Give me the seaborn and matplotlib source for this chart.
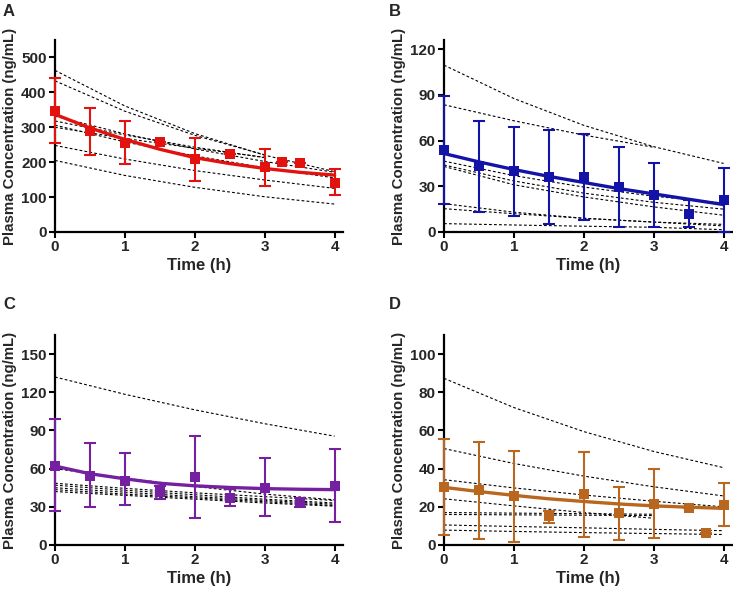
import matplotlib
matplotlib.use("Agg")
import matplotlib.pyplot as plt
import seaborn as sns

# ---- shared time grids ----
obs_time = [0, 0.5, 1, 1.5, 2, 2.5, 3, 3.5, 4]
fit_time = [0, 0.5, 1, 1.5, 2, 2.5, 3, 3.5, 4]
subj_time = [0, 1, 2, 3, 4]

# ---- panel A ----
a_time = [0, 0.5, 1, 1.5, 2, 2.5, 3, 3.25, 3.5, 4]
a_mean = [348, 288, 255, 258, 209, 224, 185, 200, 198, 141]
a_lo = [255, 222, 195, 258, 147, 224, 133, 200, 198, 105]
a_hi = [440, 355, 317, 258, 268, 224, 237, 200, 198, 180]
a_fit = [337, 298, 265, 237, 213, 196, 182, 171, 163]
a_subjects = [
    [463, 361, 282, 220, 173],
    [433, 346, 277, 221],
    [332, 281, 238, 202, 171],
    [318, 278, 243, 213],
    [306, 258, 218, 184, 155],
    [300, 268, 240, 214],
    [248, 209, 176, 149, 125],
    [205, 162, 128, 101, 80],
]

# ---- panel B ----
b_mean = [53.9, 43.6, 40.0, 36.4, 36.4, 29.5, 24.0, 12.0, 21.0]
b_lo = [18.5, 13.0, 10.5, 5.5, 8.0, 3.0, 3.0, 3.0, 0.0]
b_hi = [89.5, 72.7, 69.0, 67.0, 64.5, 56.0, 45.0, 21.0, 42.0]
b_fit = [51.5, 46.0, 41.0, 36.5, 32.5, 28.5, 25.0, 21.5, 18.0]
b_subjects = [
    [109.5, 87.6, 70.0, 56.0, 45.0],
    [83.5, 73.0, 63.6, 55.6],
    [46.5, 37.0, 29.5, 23.5, 19.0],
    [44.0, 33.5, 25.5, 19.5, 15.0],
    [43.0, 31.0, 23.0, 16.5, 11.0],
    [18.6, 13.0, 9.0, 6.5, 4.0],
    [15.3, 12.0, 9.0, 6.5, 5.0],
    [5.5, 4.6, 3.8, 3.1, 1.5],
]

# ---- panel C ----
c_mean = [62.3, 54.5, 50.3, 41.4, 53.4, 36.6, 45.0, 33.5, 46.3]
c_lo = [27.0, 30.0, 31.4, 36.0, 21.5, 31.0, 22.5, 30.0, 18.0]
c_hi = [98.7, 80.0, 72.0, 46.0, 85.3, 44.0, 68.6, 37.0, 75.6]
c_fit = [62.0, 56.0, 52.0, 48.5, 46.5, 45.2, 44.3, 43.8, 43.5]
c_subjects = [
    [132.0, 118.4, 106.2, 95.3, 85.5],
    [60.0, 52.5, 46.0, 40.0, 35.5],
    [48.5, 44.5, 41.0, 38.0, 35.0],
    [47.0, 43.0, 39.5, 36.0, 33.0],
    [45.0, 41.5, 38.0, 35.0, 32.0],
    [43.5, 40.0, 37.0, 34.0, 31.0],
    [42.0, 39.0, 36.0, 33.0, 30.5],
]

# ---- panel D ----
d_time = [0, 0.5, 1, 1.5, 2, 2.5, 3, 3.5, 3.75, 4]
d_mean = [30.2, 28.8, 25.5, 15.2, 26.6, 16.8, 21.7, 19.2, 6.5, 21.2]
d_lo = [5.0, 3.0, 1.7, 11.5, 4.0, 2.8, 3.5, 19.2, 6.5, 9.8]
d_hi = [55.5, 54.2, 49.0, 18.0, 48.6, 30.6, 40.0, 19.2, 6.5, 32.6]
d_fit = [30.2, 28.0, 26.0, 24.2, 22.8, 21.5, 20.5, 19.8, 19.2]
d_subjects = [
    [87.3, 72.0, 59.4, 49.0, 40.5],
    [50.5, 42.7, 36.1, 30.5, 25.7],
    [34.2, 29.9, 26.2, 22.9, 20.0],
    [24.2, 20.5, 17.0, 14.0],
    [17.0, 16.7, 16.4, 16.1],
    [16.0, 15.8, 15.6, 15.4],
    [10.5, 9.7, 9.0, 8.2, 7.5],
    [7.8, 7.1, 6.5, 6.0, 5.5],
]

panels = [
    ("A", a_time, a_mean, a_lo, a_hi, a_fit, a_subjects, "#e3120f", 550, 100),
    ("B", obs_time, b_mean, b_lo, b_hi, b_fit, b_subjects, "#1313a8", 126, 30),
    ("C", obs_time, c_mean, c_lo, c_hi, c_fit, c_subjects, "#7420a0", 165, 30),
    ("D", d_time, d_mean, d_lo, d_hi, d_fit, d_subjects, "#b9661e", 110, 20),
]

# axes boxes in pixels: left, top, right, bottom
W, H = 733, 591
boxes = [(55, 40, 343, 232), (444, 40, 732, 232), (55, 335, 343, 545), (444, 335, 732, 545)]
letter_pos = [(3, 4), (389, 4), (3, 297), (389, 297)]

sns.set_theme(style="ticks")
plt.rcParams["font.family"] = ["Liberation Sans", "DejaVu Sans"]
plt.rcParams["font.weight"] = "bold"

fig = plt.figure(figsize=(W / 100, H / 100), dpi=100)

for (letter, t, mean, lo, hi, fit, subjects, color, ytop, ystep), box, lp in zip(panels, boxes, letter_pos):
    left, top, right, bottom = box
    ax = fig.add_axes([left / W, 1 - bottom / H, (right - left) / W, (bottom - top) / H])

    for subj in subjects:
        sns.lineplot(x=subj_time[:len(subj)], y=subj, color="black", lw=0.8,
                     linestyle=(0, (2.5, 2)), ax=ax, legend=False)
    sns.lineplot(x=fit_time, y=fit, color=color, lw=2.4, ax=ax, legend=False)

    yerr = [[m - l for m, l in zip(mean, lo)], [h - m for m, h in zip(mean, hi)]]
    ax.errorbar(t, mean, yerr=yerr, fmt="none", ecolor=color, elinewidth=1.5,
                capsize=4.5, capthick=1.5, clip_on=False, zorder=4)
    sns.scatterplot(x=t, y=mean, color=color, marker="s", s=52, edgecolor=color,
                    linewidth=0, ax=ax, zorder=5, clip_on=False)

    ax.set_xlim(0, 4.12)
    ax.set_ylim(0, ytop)
    ax.set_xticks([0, 1, 2, 3, 4])
    ax.set_yticks(range(0, int(ytop) + 1, ystep))
    ax.set_xlabel("Time (h)", fontsize=12, fontweight="bold", labelpad=3)
    ax.set_ylabel("Plasma Concentration (ng/mL)", fontsize=10.8, fontweight="bold", labelpad=3)
    ax.tick_params(axis="both", labelsize=11, width=1.5, length=4, pad=2, color="black")
    for lab in ax.get_xticklabels() + ax.get_yticklabels():
        lab.set_fontweight("bold")
    sns.despine(ax=ax)
    for side in ("left", "bottom"):
        ax.spines[side].set_linewidth(1.6)
        ax.spines[side].set_color("black")

    fig.text(lp[0] / W, 1 - lp[1] / H, letter, fontsize=12, fontweight="bold", va="top", ha="left")

fig.savefig("out.png", dpi=100)
